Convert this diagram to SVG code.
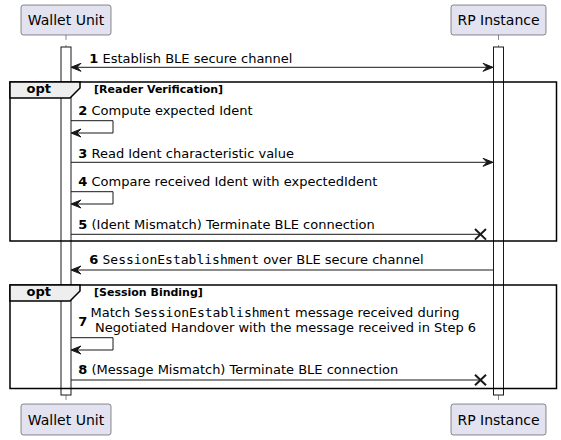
<svg xmlns="http://www.w3.org/2000/svg" width="561" height="440" viewBox="0 0 561 440">
<defs>
<style>
.part{fill:#E2E2F0;stroke:#181818;stroke-width:0.5}
.ptxt{font-family:"DejaVu Sans",sans-serif;font-size:14px;fill:#000;text-anchor:middle}
.life{stroke:#181818;stroke-width:0.5;stroke-dasharray:5,5}
.act{fill:#FFFFFF;stroke:#181818;stroke-width:1}
.frame{fill:none;stroke:#000;stroke-width:1.5}
.tab{fill:#EEEEEE;stroke:#000;stroke-width:1.5}
.opt{font-family:"DejaVu Sans",sans-serif;font-size:13px;font-weight:bold;fill:#000}
.cond{font-family:"DejaVu Sans",sans-serif;font-size:11px;font-weight:bold;fill:#000}
.msg{font-family:"DejaVu Sans",sans-serif;font-size:13px;fill:#000}
.mono{font-family:"DejaVu Sans Mono",monospace}
.ln{stroke:#181818;stroke-width:1;fill:none}
.ah{fill:#181818;stroke:#181818;stroke-width:1}
.x{stroke:#181818;stroke-width:2;fill:none}
</style>
</defs>
<g id="lifelines">
<line class="life" x1="66" y1="35" x2="66" y2="404"/>
<line class="life" x1="498.5" y1="35" x2="498.5" y2="404"/>
</g>
<g id="wallet-unit-top"><rect class="part" x="21" y="5" width="90" height="30" rx="2.5"/><text class="ptxt" x="66" y="25">Wallet Unit</text></g>
<g id="rp-instance-top"><rect class="part" x="451" y="5" width="95" height="30" rx="2.5"/><text class="ptxt" x="498.5" y="25">RP Instance</text></g>
<g id="wallet-unit-bottom"><rect class="part" x="21" y="404" width="90" height="31" rx="2.5"/><text class="ptxt" x="66" y="424.5">Wallet Unit</text></g>
<g id="rp-instance-bottom"><rect class="part" x="451" y="404" width="95" height="31" rx="2.5"/><text class="ptxt" x="498.5" y="424.5">RP Instance</text></g>
<g id="activations">
<rect class="act" x="61" y="47" width="10" height="348"/>
<rect class="act" x="493.5" y="47" width="10" height="348"/>
</g>
<g id="group-reader-verification">
<rect class="frame" x="10" y="82" width="546.5" height="159"/>
<polygon class="tab" points="10,82 80,82 80,88 70,98 10,98"/>
<text class="opt" x="26.5" y="93">opt</text>
<text class="cond" x="94" y="93">[Reader Verification]</text>
</g>
<g id="group-session-binding">
<rect class="frame" x="10" y="285" width="546.5" height="103.5"/>
<polygon class="tab" points="10,285 80,285 80,291 70,301 10,301"/>
<text class="opt" x="26.5" y="296">opt</text>
<text class="cond" x="94" y="296">[Session Binding]</text>
</g>
<g id="connectors">
<!-- 1 -->
<line class="ln" x1="72" y1="67.3" x2="492" y2="67.3"/>
<polygon class="ah" points="71,67.3 81,63.3 77,67.3 81,71.3"/>
<polygon class="ah" points="493,67.3 483,63.3 487,67.3 483,71.3"/>
<!-- 2 -->
<polyline class="ln" points="71,120.7 113,120.7 113,133 72,133"/>
<polygon class="ah" points="71,133 81,129 77,133 81,137"/>
<!-- 3 -->
<line class="ln" x1="71" y1="162.3" x2="492" y2="162.3"/>
<polygon class="ah" points="493,162.3 483,158.3 487,162.3 483,166.3"/>
<!-- 4 -->
<polyline class="ln" points="71,191.7 113,191.7 113,204 72,204"/>
<polygon class="ah" points="71,204 81,200 77,204 81,208"/>
<!-- 5 -->
<line class="ln" x1="71" y1="234.3" x2="481" y2="234.3"/>
<path class="x" d="M475,229 L486,239.6 M486,229 L475,239.6"/>
<!-- 6 -->
<line class="ln" x1="72" y1="270" x2="493" y2="270"/>
<polygon class="ah" points="71,270 81,266 77,270 81,274"/>
<!-- 7 -->
<polyline class="ln" points="71,337.7 113,337.7 113,350 72,350"/>
<polygon class="ah" points="71,350 81,346 77,350 81,354"/>
<!-- 8 -->
<line class="ln" x1="71" y1="380" x2="481" y2="380"/>
<path class="x" d="M475,374.7 L486,385.3 M486,374.7 L475,385.3"/>
</g>
<g id="labels">
<text class="msg" x="89.3" y="62.7"><tspan font-weight="bold">1</tspan> Establish BLE secure channel</text>
<text class="msg" x="78.3" y="115"><tspan font-weight="bold">2</tspan> Compute expected Ident</text>
<text class="msg" x="78.3" y="157.7"><tspan font-weight="bold">3</tspan> Read Ident characteristic value</text>
<text class="msg" x="78.3" y="186"><tspan font-weight="bold">4</tspan> Compare received Ident with expectedIdent</text>
<text class="msg" x="78.3" y="229.3"><tspan font-weight="bold">5</tspan> (Ident Mismatch) Terminate BLE connection</text>
<text class="msg" x="89.3" y="264.3"><tspan font-weight="bold">6</tspan> <tspan class="mono">SessionEstablishment</tspan> over BLE secure channel</text>
<text class="msg" x="78.3" y="326" font-weight="bold">7</text>
<text class="msg" x="90.5" y="316.6">Match <tspan class="mono">SessionEstablishment</tspan> message received during</text>
<text class="msg" x="95" y="331.6">Negotiated Handover with the message received in Step 6</text>
<text class="msg" x="78.3" y="374.3"><tspan font-weight="bold">8</tspan> (Message Mismatch) Terminate BLE connection</text>
</g>
</svg>
